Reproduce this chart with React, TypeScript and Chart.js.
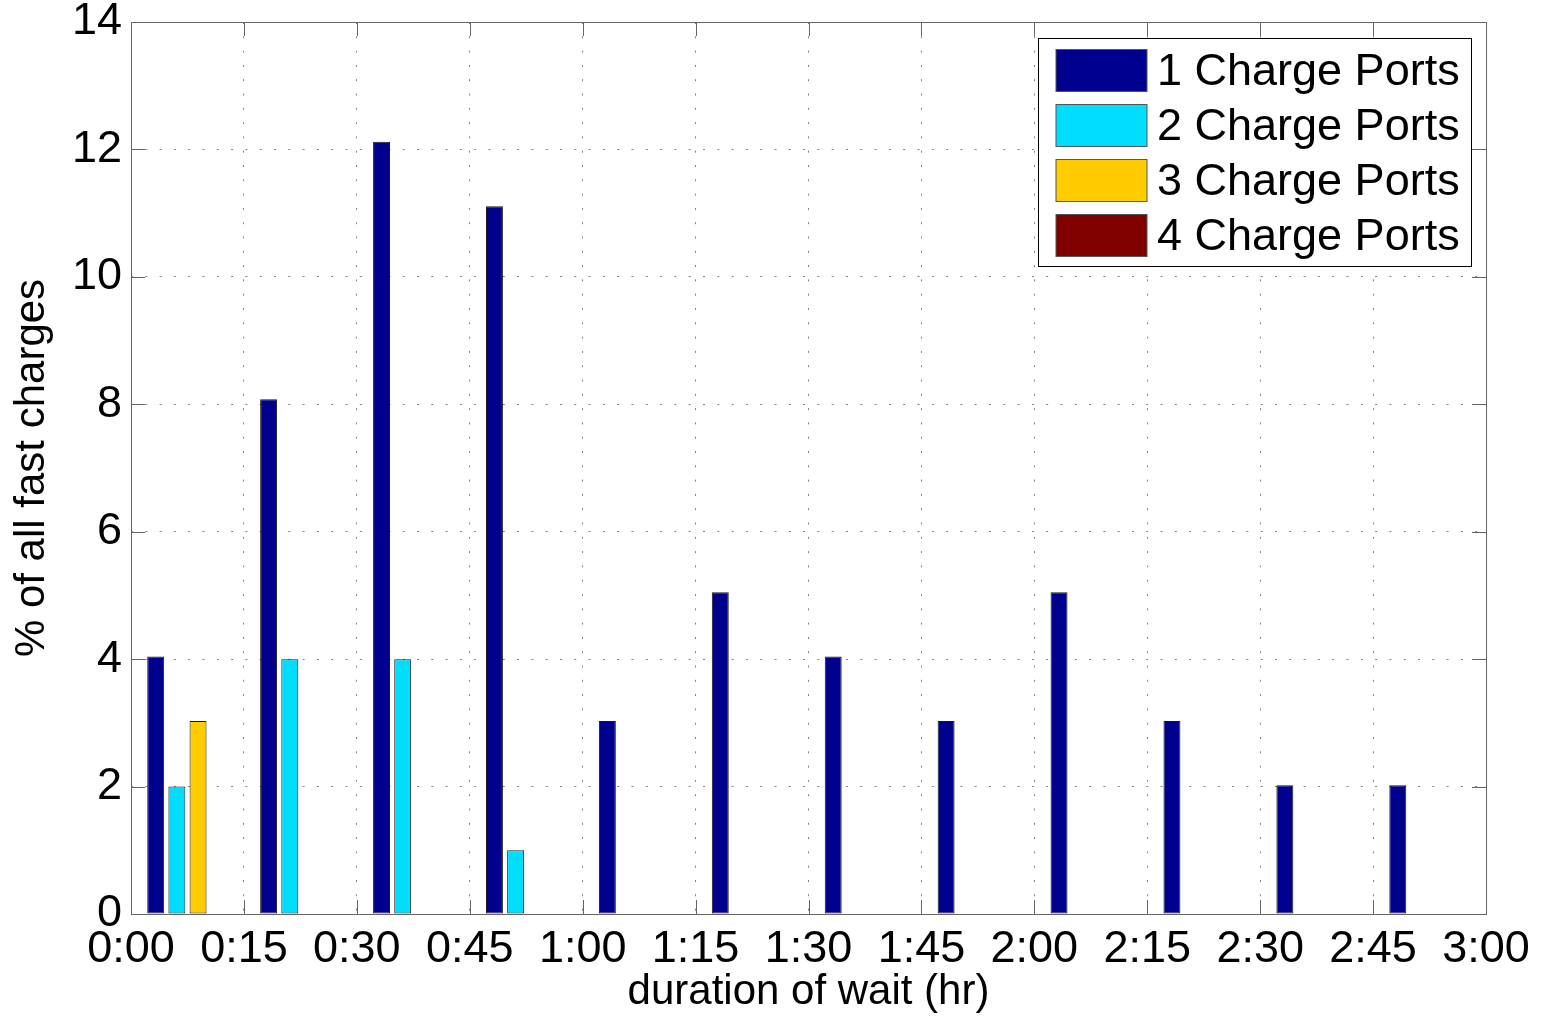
import React, { useEffect, useRef } from 'react';
import { Chart, registerables } from 'chart.js';

Chart.register(...registerables);

// ---- data ----
const binLabels = ['0:00', '0:15', '0:30', '0:45', '1:00', '1:15', '1:30', '1:45', '2:00', '2:15', '2:30', '2:45'];
const xTickLabels = ['0:00', '0:15', '0:30', '0:45', '1:00', '1:15', '1:30', '1:45', '2:00', '2:15', '2:30', '2:45', '3:00'];
const ports1 = [4.04, 8.08, 12.12, 11.11, 3.03, 5.05, 4.04, 3.03, 5.05, 3.03, 2.02, 2.02];
const ports2 = [2.0, 4.0, 4.0, 1.0, 0, 0, 0, 0, 0, 0, 0, 0];
const ports3 = [3.03, 0, 0, 0, 0, 0, 0, 0, 0, 0, 0, 0];
const ports4 = [0, 0, 0, 0, 0, 0, 0, 0, 0, 0, 0, 0];
const seriesLabels = ['1 Charge Ports', '2 Charge Ports', '3 Charge Ports', '4 Charge Ports'];
const seriesColors = ['#00008F', '#00DDFF', '#FFCC00', '#800000'];
const yTicks = { min: 0, max: 14, step: 2 };
const xMinutes = { min: 0, max: 180, step: 15 };

const FONT = '"Liberation Sans", Arial, sans-serif';
const AXIS_COLOR = '#666666';
const GRID_COLOR = '#808080';

const framePlugin = {
  id: 'matlabFrame',
  afterDatasetsDraw(chart: any) {
    const { ctx, chartArea } = chart;
    const { left, right, top, bottom } = chartArea;
    ctx.save();
    ctx.strokeStyle = AXIS_COLOR;
    ctx.lineWidth = 1;
    ctx.setLineDash([]);
    ctx.strokeRect(Math.round(left) + 0.5, Math.round(top) + 0.5, Math.round(right - left), Math.round(bottom - top));
    const tl = 14;
    const xs = chart.scales.xt;
    const ys = chart.scales.y;
    ctx.beginPath();
    xs.ticks.forEach((t: any) => {
      const px = Math.round(xs.getPixelForValue(t.value)) + 0.5;
      ctx.moveTo(px, bottom);
      ctx.lineTo(px, bottom - tl);
      ctx.moveTo(px, top);
      ctx.lineTo(px, top + tl);
    });
    ys.ticks.forEach((t: any) => {
      const py = Math.round(ys.getPixelForValue(t.value)) + 0.5;
      ctx.moveTo(left, py);
      ctx.lineTo(left + tl, py);
      ctx.moveTo(right, py);
      ctx.lineTo(right - tl, py);
    });
    ctx.stroke();
    ctx.restore();
  },
  afterDraw(chart: any) {
    const { ctx } = chart;
    const bx = 1038.5, by = 38.5, bw = 433, bh = 228;
    ctx.save();
    ctx.fillStyle = '#ffffff';
    ctx.fillRect(bx, by, bw, bh);
    ctx.strokeStyle = '#000000';
    ctx.lineWidth = 1;
    ctx.strokeRect(bx, by, bw, bh);
    ctx.font = `45px ${FONT}`;
    ctx.textBaseline = 'middle';
    ctx.textAlign = 'left';
    chart.data.datasets.forEach((ds: any, i: number) => {
      const sy = 49.5 + i * 55;
      ctx.fillStyle = ds.backgroundColor;
      ctx.fillRect(1056, sy, 91, 42);
      ctx.strokeStyle = '#555555';
      ctx.strokeRect(1056, sy, 91, 42);
      ctx.fillStyle = '#000000';
      ctx.fillText(ds.label, 1157, sy + 23);
    });
    ctx.restore();
  },
};

export default function App() {
  const ref = useRef<HTMLCanvasElement | null>(null);

  useEffect(() => {
    document.body.style.margin = '0';
    if (!ref.current) return;
    const series = [ports1, ports2, ports3, ports4];
    const chart = new Chart(ref.current, {
      type: 'bar',
      data: {
        labels: binLabels,
        datasets: series.map((d, i) => ({
          label: seriesLabels[i],
          data: d,
          backgroundColor: seriesColors[i],
          borderColor: 'rgba(0,0,0,0.9)',
          borderWidth: 1,
          borderSkipped: false,
          categoryPercentage: 0.75,
          barPercentage: 0.8,
          xAxisID: 'x',
          yAxisID: 'y',
        })),
      },
      options: {
        responsive: false,
        animation: false,
        layout: { padding: { left: 0, top: 22, right: 61, bottom: 0 } },
        plugins: {
          legend: { display: false },
          tooltip: { enabled: false },
        },
        scales: {
          x: {
            type: 'category',
            display: false,
            offset: true,
            grid: { display: false },
          },
          xt: {
            type: 'linear',
            position: 'bottom',
            min: xMinutes.min,
            max: xMinutes.max,
            offset: false,
            afterFit: (s: any) => {
              s.height = 102;
              s.paddingLeft = 0;
              s.paddingRight = 0;
            },
            ticks: {
              stepSize: xMinutes.step,
              autoSkip: false,
              maxRotation: 0,
              color: '#000',
              padding: 13,
              font: { family: FONT, size: 45, lineHeight: 1 },
              callback: (v: any) => xTickLabels[Math.round(Number(v) / xMinutes.step)],
            },
            grid: { color: GRID_COLOR, lineWidth: 1, drawTicks: false, offset: false },
            border: { display: false, dash: [2, 12.3] },
            title: {
              display: true,
              text: 'duration of wait (hr)',
              color: '#000',
              font: { family: FONT, size: 42, lineHeight: 1 },
              padding: { top: 0, bottom: 3 },
            },
          },
          y: {
            type: 'linear',
            min: yTicks.min,
            max: yTicks.max,
            afterFit: (s: any) => {
              s.width = 131;
              s.paddingTop = 0;
              s.paddingBottom = 0;
            },
            ticks: {
              stepSize: yTicks.step,
              color: '#000',
              padding: 9,
              font: { family: FONT, size: 45, lineHeight: 1 },
            },
            grid: { color: GRID_COLOR, lineWidth: 1, drawTicks: false },
            border: { display: false, dash: [2, 12.3] },
            title: {
              display: true,
              text: '% of all fast charges',
              color: '#000',
              font: { family: FONT, size: 42, lineHeight: 1 },
              padding: { top: 11, bottom: 11 },
            },
          },
        },
      },
      plugins: [framePlugin],
    });
    return () => chart.destroy();
  }, []);

  return (
    <div style={{ position: 'absolute', left: 0, top: 0, width: 1547, height: 1016, background: '#fff' }}>
      <canvas ref={ref} width={1547} height={1016} style={{ display: 'block' }} />
    </div>
  );
}
